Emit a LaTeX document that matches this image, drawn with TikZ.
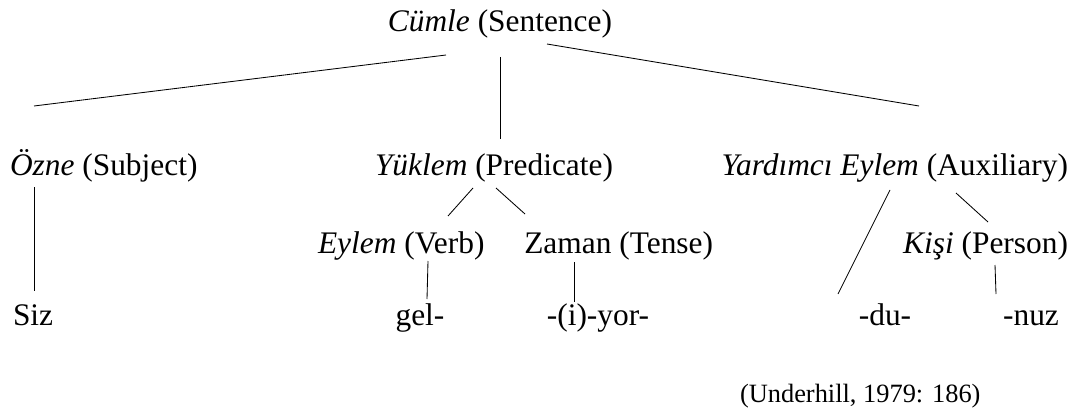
\documentclass[tikz,border=0pt]{standalone}
\usepackage{fontspec}
\setmainfont{Liberation Serif}
\begin{document}
\begin{tikzpicture}[x=1pt,y=-1pt,
  lbl/.style={inner sep=0pt, outer sep=0pt, font=\fontsize{31.4}{36}\selectfont},
  cite/.style={inner sep=0pt, outer sep=0pt, font=\fontsize{26.4}{30}\selectfont},
  edge/.style={draw=black, line width=0.85pt}]
\useasboundingbox (0,0) rectangle (1075,412);

% tree labels, placed on their baselines
\node[lbl, anchor=base east] (cumle)   at (612,32)   {\textit{Cümle} (Sentence)};
\node[lbl, anchor=base west] (ozne)    at (10,175)   {\textit{Özne} (Subject)};
\node[lbl, anchor=base west] (yuklem)  at (375,175)  {\textit{Yüklem} (Predicate)};
\node[lbl, anchor=base east] (yardim)  at (1068,175) {\textit{Yardımcı Eylem} (Auxiliary)};
\node[lbl, anchor=base west] (eylem)   at (318,253)  {\textit{Eylem} (Verb)};
\node[lbl, anchor=base east] (zaman)   at (713,253)  {Zaman (Tense)};
\node[lbl, anchor=base east] (kisi)    at (1068,253) {\textit{Kişi} (Person)};
\node[lbl, anchor=base west] (siz)     at (13,325)   {Siz};
\node[lbl, anchor=base]      (gel)     at (420,325)  {gel-};
\node[lbl, anchor=base]      (yor)     at (598,325)  {-(i)-yor-};
\node[lbl, anchor=base]      (du)      at (885,325)  {-du-};
\node[lbl, anchor=base]      (nuz)     at (1031,325) {-nuz};
\node[cite, anchor=base west] (source) at (740,402)  {(Underhill, 1979: 186)};

% branch end points
\coordinate (cumle-l)   at (446,55);
\coordinate (cumle-m)   at (500,57);
\coordinate (cumle-r)   at (547,44);
\coordinate (ozne-t)    at (34,106);
\coordinate (yuklem-t)  at (500,139);
\coordinate (yardim-t)  at (919,106);
\coordinate (ozne-b)    at (34,187);
\coordinate (siz-t)     at (34,291);
\coordinate (yuklem-bl) at (473,188);
\coordinate (yuklem-br) at (496,188);
\coordinate (eylem-t)   at (448,216);
\coordinate (zaman-t)   at (525,214);
\coordinate (eylem-b)   at (428,261);
\coordinate (gel-t)     at (427,299);
\coordinate (zaman-b)   at (574,262);
\coordinate (yor-t)     at (574,302);
\coordinate (yardim-bl) at (890,190);
\coordinate (yardim-br) at (956,193);
\coordinate (du-t)      at (838,294);
\coordinate (kisi-t)    at (988,222);
\coordinate (kisi-b)    at (995,265);
\coordinate (nuz-t)     at (996,294);

% branches
\draw[edge] (cumle-l)   -- (ozne-t);
\draw[edge] (cumle-m)   -- (yuklem-t);
\draw[edge] (cumle-r)   -- (yardim-t);
\draw[edge] (ozne-b)    -- (siz-t);
\draw[edge] (yuklem-bl) -- (eylem-t);
\draw[edge] (yuklem-br) -- (zaman-t);
\draw[edge] (eylem-b)   -- (gel-t);
\draw[edge] (zaman-b)   -- (yor-t);
\draw[edge] (yardim-bl) -- (du-t);
\draw[edge] (yardim-br) -- (kisi-t);
\draw[edge] (kisi-b)    -- (nuz-t);
\end{tikzpicture}
\end{document}
